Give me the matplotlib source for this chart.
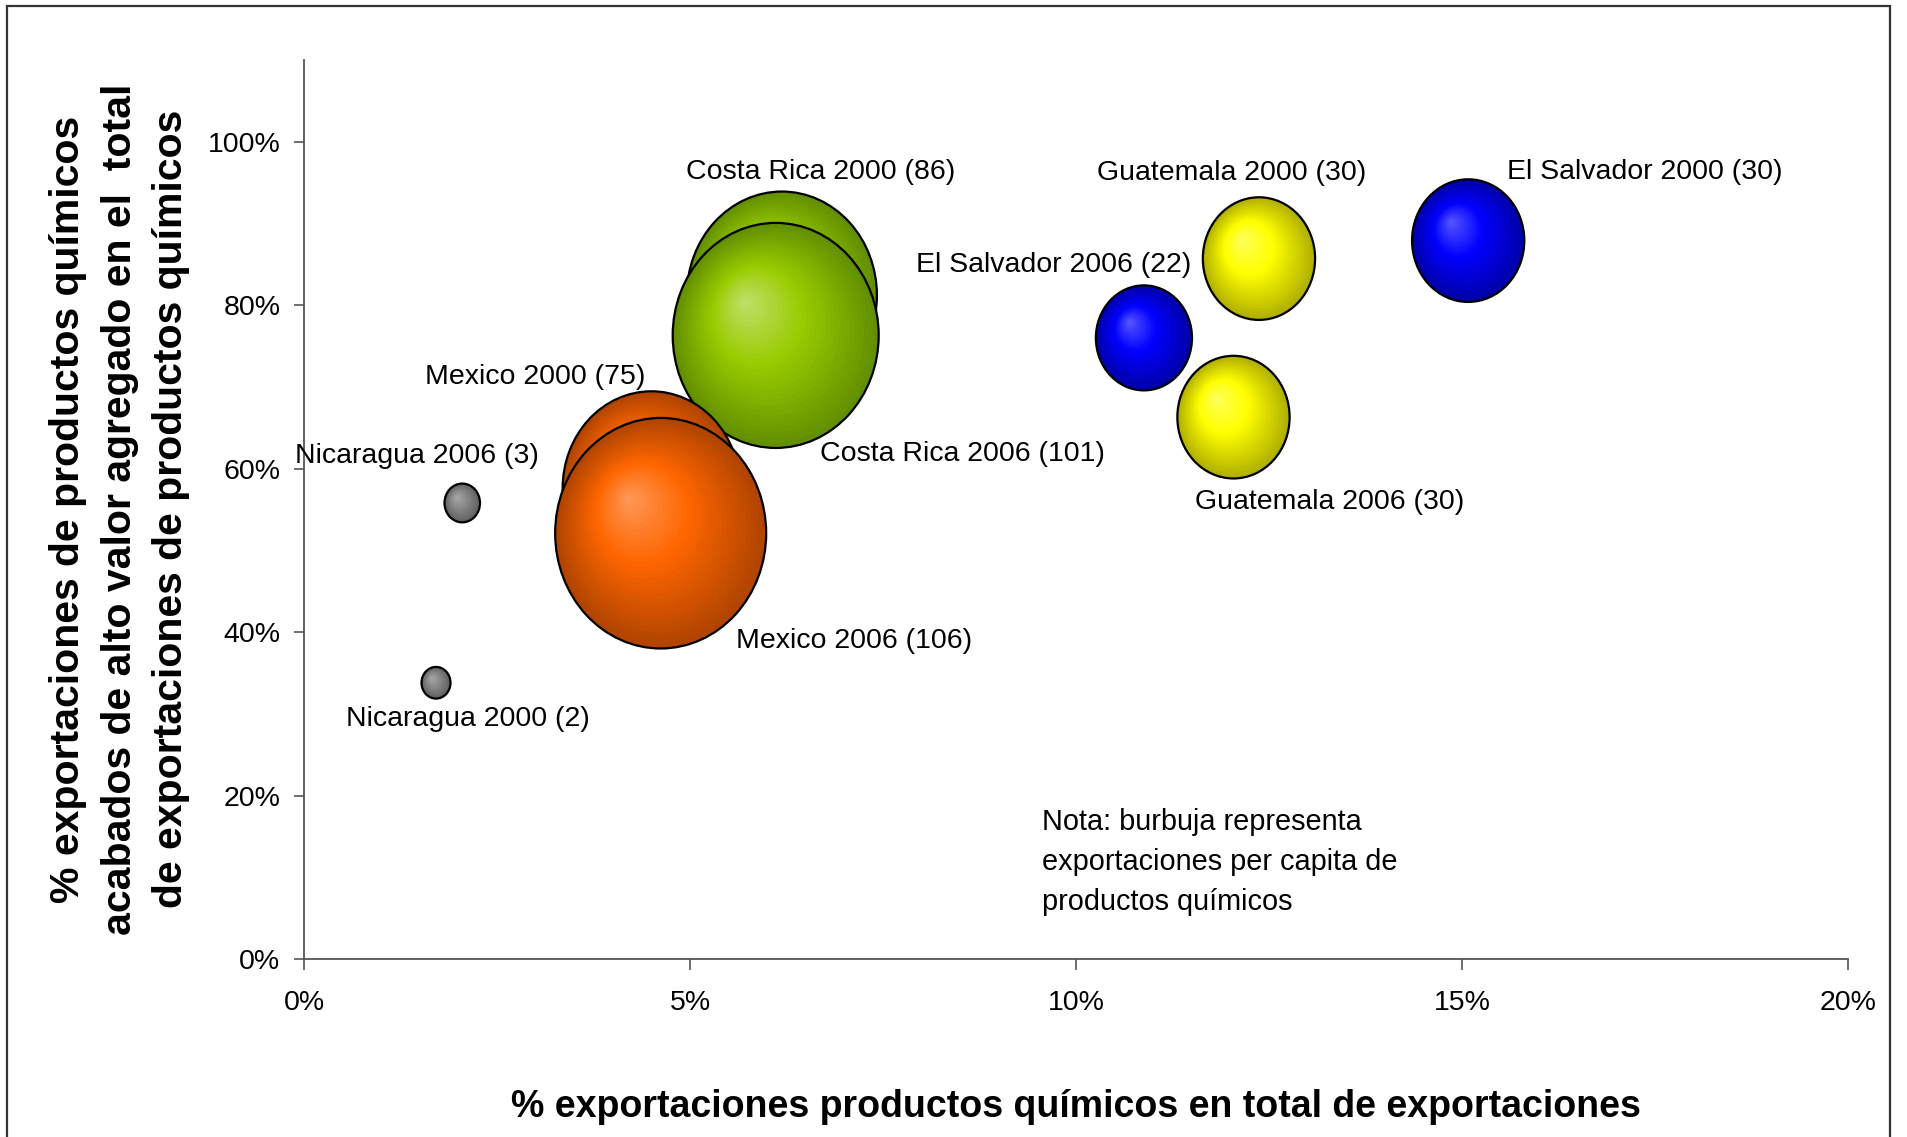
import numpy as np
import matplotlib
matplotlib.use("Agg")
import matplotlib.pyplot as plt
from matplotlib.patches import Ellipse, Rectangle
from matplotlib.colors import to_rgb

plt.rcParams['font.family'] = ['Liberation Sans', 'DejaVu Sans']

# data: x = % chemical exports in total exports, y = % high value added finished chemicals,
# size = per capita chemical exports
countries = ['Costa Rica', 'Costa Rica', 'El Salvador', 'El Salvador', 'Guatemala', 'Guatemala',
             'Mexico', 'Mexico', 'Nicaragua', 'Nicaragua']
years = [2000, 2006, 2000, 2006, 2000, 2006, 2000, 2006, 2000, 2006]
x_share = [6.19, 6.11, 15.08, 10.88, 12.37, 12.04, 4.50, 4.62, 1.71, 2.05]
y_share = [81.2, 76.3, 87.9, 76.0, 85.7, 66.3, 57.6, 52.1, 33.8, 55.8]
per_capita = [86, 101, 30, 22, 30, 30, 75, 106, 2, 3]

x_ticks = [0, 5, 10, 15, 20]
y_ticks = [0, 20, 40, 60, 80, 100]

# colours per country: highlight, base, dark rim
palette = {
    'Costa Rica': ('#c2e070', '#99cc00', '#628f00'),
    'El Salvador': ('#5a5aff', '#0000ff', '#0000a8'),
    'Guatemala': ('#ffff60', '#ffff00', '#b0b000'),
    'Mexico': ('#ff9a5c', '#ff6600', '#b04400'),
    'Nicaragua': ('#a8a8a8', '#8a8a8a', '#606060'),
}

# label offsets in pixels from the bubble centre
label_off = [(39, 123), (187, -119), (177, 69), (-90, 73), (-27, 86),
             (96, -85), (-116, 111), (193, -108), (32, -36), (-45, 47)]

BW = 0.2655  # bubble width in x units per sqrt(size)
BH = 2.74    # bubble height in y units per sqrt(size)


def grad(c, t):
    light, base, dark = [np.array(to_rgb(v)) for v in c]
    if t < 0.45:
        f = t / 0.45
        return light * (1 - f) + base * f
    f = (t - 0.45) / 0.55
    return base * (1 - f) + dark * f


def bubble(ax, x, y, s, cols, z):
    w = BW * np.sqrt(s)
    h = BH * np.sqrt(s)
    dx, dy = -0.31 * w / 2, 0.31 * h / 2
    n = 28
    for i in range(n):
        t = 1 - i / n
        ax.add_patch(Ellipse((x + (1 - t) * dx, y + (1 - t) * dy), w * t, h * t,
                             facecolor=grad(cols, t), edgecolor='none', zorder=z))
    ax.add_patch(Ellipse((x, y), w, h, facecolor='none', edgecolor='black',
                         linewidth=1.6, zorder=z + 0.5))


fig = plt.figure(figsize=(19.07, 11.37), dpi=100)
ax = fig.add_axes([304 / 1907, 1 - 959 / 1137, (1848 - 304) / 1907, (959 - 60) / 1137])

for i in range(len(countries)):
    bubble(ax, x_share[i], y_share[i], per_capita[i], palette[countries[i]], 2 + i)
    ax.annotate('%s %d (%d)' % (countries[i], years[i], per_capita[i]),
                (x_share[i], y_share[i]), xytext=label_off[i], textcoords='offset pixels',
                ha='center', va='center', fontsize=20.5, zorder=30)

ax.set_xlim(0, 20)
ax.set_ylim(0, 110)
ax.set_xticks(x_ticks)
ax.set_xticklabels(['%d%%' % v for v in x_ticks])
ax.set_yticks(y_ticks)
ax.set_yticklabels(['%d%%' % v for v in y_ticks])
ax.tick_params(axis='both', labelsize=20.5, color='#555555', width=1.2, direction='out')
ax.tick_params(axis='x', length=8, pad=14)
ax.tick_params(axis='y', length=7, pad=10)
for side in ['top', 'right']:
    ax.spines[side].set_visible(False)
for side in ['left', 'bottom']:
    ax.spines[side].set_color('#555555')
    ax.spines[side].set_linewidth(1.3)

ax.text(0.478, 0.108, 'Nota: burbuja representa\nexportaciones per capita de\nproductos químicos',
        transform=ax.transAxes, ha='left', va='center', fontsize=20.8, linespacing=1.56)

fig.text(1076 / 1907, 1 - 1107 / 1137,
         '% exportaciones productos químicos en total de exportaciones',
         ha='center', va='center', fontsize=27, fontweight='bold')
fig.text(120 / 1907, 1 - 509 / 1137,
         '% exportaciones de productos químicos\nacabados de alto valor agregado en el  total\n'
         'de exportaciones de productos químicos',
         ha='center', va='center', rotation=90, fontsize=29.5, fontweight='bold',
         linespacing=1.45, multialignment='center')

fig.add_artist(Rectangle((7 / 1907, -0.05), (1890 - 7) / 1907, 1.05 - 6 / 1137,
                         transform=fig.transFigure, fill=False, edgecolor='#333333', linewidth=1.6))

fig.savefig('out.png', dpi=100)
